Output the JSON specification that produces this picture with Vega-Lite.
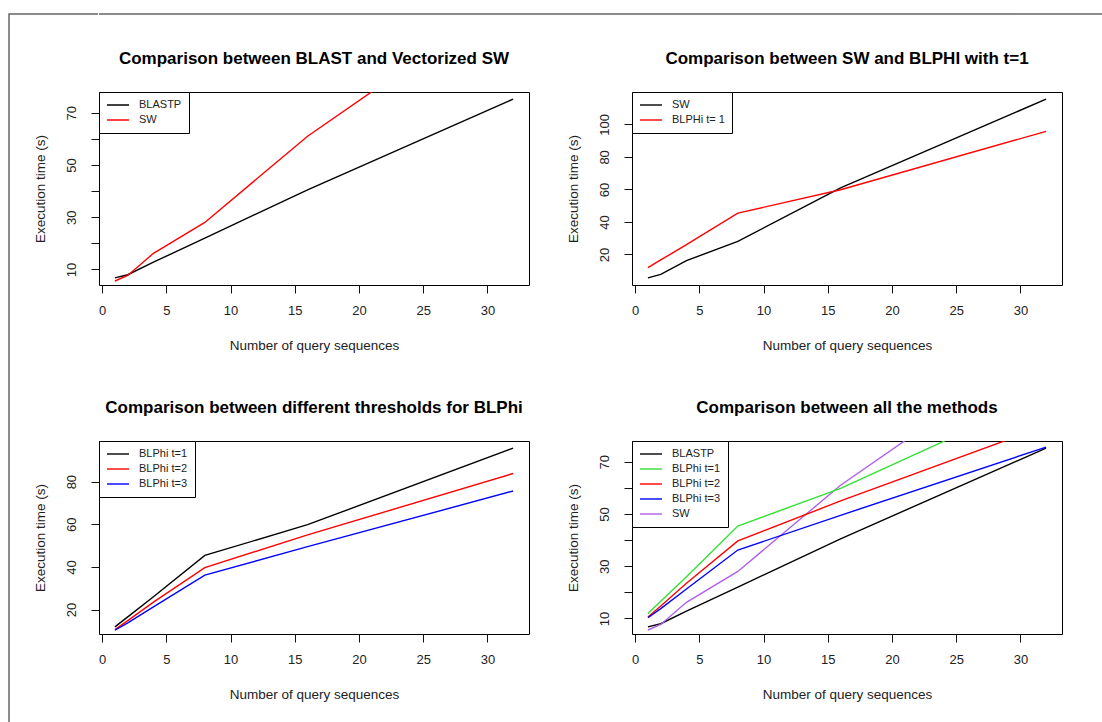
{
  "$schema": "https://vega.github.io/schema/vega-lite/v6.json",
  "background": "white",
  "padding": {"left": 8, "top": 13, "right": 0, "bottom": 0},
  "datasets": {
    "timings": [
      {"method": "BLASTP", "queries": 1, "seconds": 6.8},
      {"method": "BLASTP", "queries": 2, "seconds": 8.0},
      {"method": "BLASTP", "queries": 4, "seconds": 12.8},
      {"method": "BLASTP", "queries": 8, "seconds": 22.0},
      {"method": "BLASTP", "queries": 16, "seconds": 40.5},
      {"method": "BLASTP", "queries": 32, "seconds": 75.2},
      {"method": "SW", "queries": 1, "seconds": 5.6},
      {"method": "SW", "queries": 2, "seconds": 7.7},
      {"method": "SW", "queries": 4, "seconds": 16.2},
      {"method": "SW", "queries": 8, "seconds": 28.0},
      {"method": "SW", "queries": 16, "seconds": 61.0},
      {"method": "SW", "queries": 32, "seconds": 115.5},
      {"method": "BLPhi t=1", "queries": 1, "seconds": 11.9},
      {"method": "BLPhi t=1", "queries": 2, "seconds": 16.6},
      {"method": "BLPhi t=1", "queries": 4, "seconds": 26.0},
      {"method": "BLPhi t=1", "queries": 8, "seconds": 45.4},
      {"method": "BLPhi t=1", "queries": 16, "seconds": 59.8},
      {"method": "BLPhi t=1", "queries": 32, "seconds": 95.7},
      {"method": "BLPhi t=2", "queries": 1, "seconds": 10.6},
      {"method": "BLPhi t=2", "queries": 2, "seconds": 14.8},
      {"method": "BLPhi t=2", "queries": 4, "seconds": 23.5},
      {"method": "BLPhi t=2", "queries": 8, "seconds": 39.7},
      {"method": "BLPhi t=2", "queries": 16, "seconds": 55.0},
      {"method": "BLPhi t=2", "queries": 32, "seconds": 83.8},
      {"method": "BLPhi t=3", "queries": 1, "seconds": 10.3},
      {"method": "BLPhi t=3", "queries": 2, "seconds": 13.8},
      {"method": "BLPhi t=3", "queries": 4, "seconds": 21.3},
      {"method": "BLPhi t=3", "queries": 8, "seconds": 36.2},
      {"method": "BLPhi t=3", "queries": 16, "seconds": 49.5},
      {"method": "BLPhi t=3", "queries": 32, "seconds": 75.6}
    ]
  },
  "config": {
    "font": "Liberation Sans",
    "view": {"stroke": "black", "strokeWidth": 1},
    "axis": {
      "grid": false,
      "domain": false,
      "tickColor": "#111",
      "tickSize": 8,
      "labelFont": "Liberation Sans",
      "labelFontSize": 13,
      "labelColor": "#222",
      "titleFont": "Liberation Sans",
      "titleFontSize": 13.5,
      "titleFontWeight": "normal",
      "titleColor": "#222"
    },
    "axisX": {"labelPadding": 11, "titlePadding": 21},
    "axisY": {"labelAngle": -90, "labelAlign": "center", "labelBaseline": "bottom", "labelPadding": 13, "titlePadding": 18},
    "title": {"font": "Liberation Sans", "fontSize": 17, "fontWeight": "bold", "anchor": "middle", "offset": 24, "color": "black"},
    "legend": {
      "orient": "top-left",
      "offset": 0,
      "strokeColor": "black",
      "fillColor": "white",
      "padding": 7,
      "symbolType": "stroke",
      "symbolSize": 484,
      "symbolStrokeWidth": 1.5,
      "clipHeight": 12,
      "labelFont": "Liberation Sans",
      "labelFontSize": 11,
      "labelColor": "#222",
      "labelOffset": 9,
      "rowPadding": 3
    },
    "line": {"strokeWidth": 1.4, "clip": true}
  },
  "spacing": -69,
  "hconcat": [
    {
      "width": 89,
      "height": 708,
      "view": {"stroke": "#666", "strokeWidth": 1.5, "strokeDash": [89, 797, 708]},
      "data": {"values": []},
      "mark": "point",
      "encoding": {}
    },
    {
      "columns": 1,
      "align": "none",
      "spacing": 0,
      "concat": [
        {
          "width": 1004,
          "height": 34,
          "view": {"stroke": "#666", "strokeWidth": 1.5, "strokeDash": [1004, 3000]},
          "data": {"values": []},
          "mark": "point",
          "encoding": {}
        },
        {
          "columns": 2,
          "spacing": {"row": 46, "column": 35},
          "resolve": {
            "scale": {"x": "independent", "y": "independent", "color": "independent"},
            "legend": {"color": "independent"}
          },
          "concat": [
            {
              "width": 430,
              "height": 193,
              "title": "Comparison between BLAST and Vectorized SW",
              "data": {"name": "timings"},
              "transform": [{"filter": {"field": "method", "oneOf": ["BLASTP", "SW"]}}],
              "mark": {"type": "line", "clip": true},
              "encoding": {
                "x": {"field": "queries", "type": "quantitative", "scale": {"domain": [-0.24, 33.24], "nice": false, "zero": false}, "axis": {"values": [0, 5, 10, 15, 20, 25, 30], "title": "Number of query sequences"}},
                "y": {"field": "seconds", "type": "quantitative", "scale": {"domain": [4.064, 77.936], "nice": false, "zero": false}, "axis": {"values": [10, 20, 30, 40, 50, 60, 70], "labelExpr": "datum.value % 20 == 10 ? datum.label : ''", "title": "Execution time (s)"}},
                "color": {"field": "method", "type": "nominal", "scale": {"domain": ["BLASTP", "SW"], "range": ["#000000", "#ff0000"]}, "legend": {"title": null}}
              }
            },
            {
              "width": 430,
              "height": 193,
              "title": "Comparison between SW and BLPHI with t=1",
              "data": {"name": "timings"},
              "transform": [{"filter": {"field": "method", "oneOf": ["SW", "BLPhi t=1"]}}],
              "mark": {"type": "line", "clip": true},
              "encoding": {
                "x": {"field": "queries", "type": "quantitative", "scale": {"domain": [-0.24, 33.24], "nice": false, "zero": false}, "axis": {"values": [0, 5, 10, 15, 20, 25, 30], "title": "Number of query sequences"}},
                "y": {"field": "seconds", "type": "quantitative", "scale": {"domain": [1.204, 119.896], "nice": false, "zero": false}, "axis": {"values": [20, 40, 60, 80, 100], "title": "Execution time (s)"}},
                "color": {"field": "method", "type": "nominal", "scale": {"domain": ["SW", "BLPhi t=1"], "range": ["#000000", "#ff0000"]}, "legend": {"title": null, "labelExpr": "datum.label == 'SW' ? 'SW' : 'BLPHi t= 1'"}}
              }
            },
            {
              "width": 430,
              "height": 193,
              "title": "Comparison between different thresholds for BLPhi",
              "data": {"name": "timings"},
              "transform": [{"filter": {"field": "method", "oneOf": ["BLPhi t=1", "BLPhi t=2", "BLPhi t=3"]}}],
              "mark": {"type": "line", "clip": true},
              "encoding": {
                "x": {"field": "queries", "type": "quantitative", "scale": {"domain": [-0.24, 33.24], "nice": false, "zero": false}, "axis": {"values": [0, 5, 10, 15, 20, 25, 30], "title": "Number of query sequences"}},
                "y": {"field": "seconds", "type": "quantitative", "scale": {"domain": [8.548, 99.052], "nice": false, "zero": false}, "axis": {"values": [20, 40, 60, 80], "title": "Execution time (s)"}},
                "color": {"field": "method", "type": "nominal", "scale": {"domain": ["BLPhi t=1", "BLPhi t=2", "BLPhi t=3"], "range": ["#000000", "#ff0000", "#0000ff"]}, "legend": {"title": null}}
              }
            },
            {
              "width": 430,
              "height": 193,
              "title": "Comparison between all the methods",
              "data": {"name": "timings"},
              "mark": {"type": "line", "clip": true},
              "encoding": {
                "x": {"field": "queries", "type": "quantitative", "scale": {"domain": [-0.24, 33.24], "nice": false, "zero": false}, "axis": {"values": [0, 5, 10, 15, 20, 25, 30], "title": "Number of query sequences"}},
                "y": {"field": "seconds", "type": "quantitative", "scale": {"domain": [4.064, 77.936], "nice": false, "zero": false}, "axis": {"values": [10, 20, 30, 40, 50, 60, 70], "labelExpr": "datum.value % 20 == 10 ? datum.label : ''", "title": "Execution time (s)"}},
                "color": {"field": "method", "type": "nominal", "scale": {"domain": ["BLASTP", "BLPhi t=1", "BLPhi t=2", "BLPhi t=3", "SW"], "range": ["#000000", "#33e033", "#ff0000", "#0000ff", "#b060e8"]}, "legend": {"title": null}}
              }
            }
          ]
        }
      ]
    }
  ]
}
